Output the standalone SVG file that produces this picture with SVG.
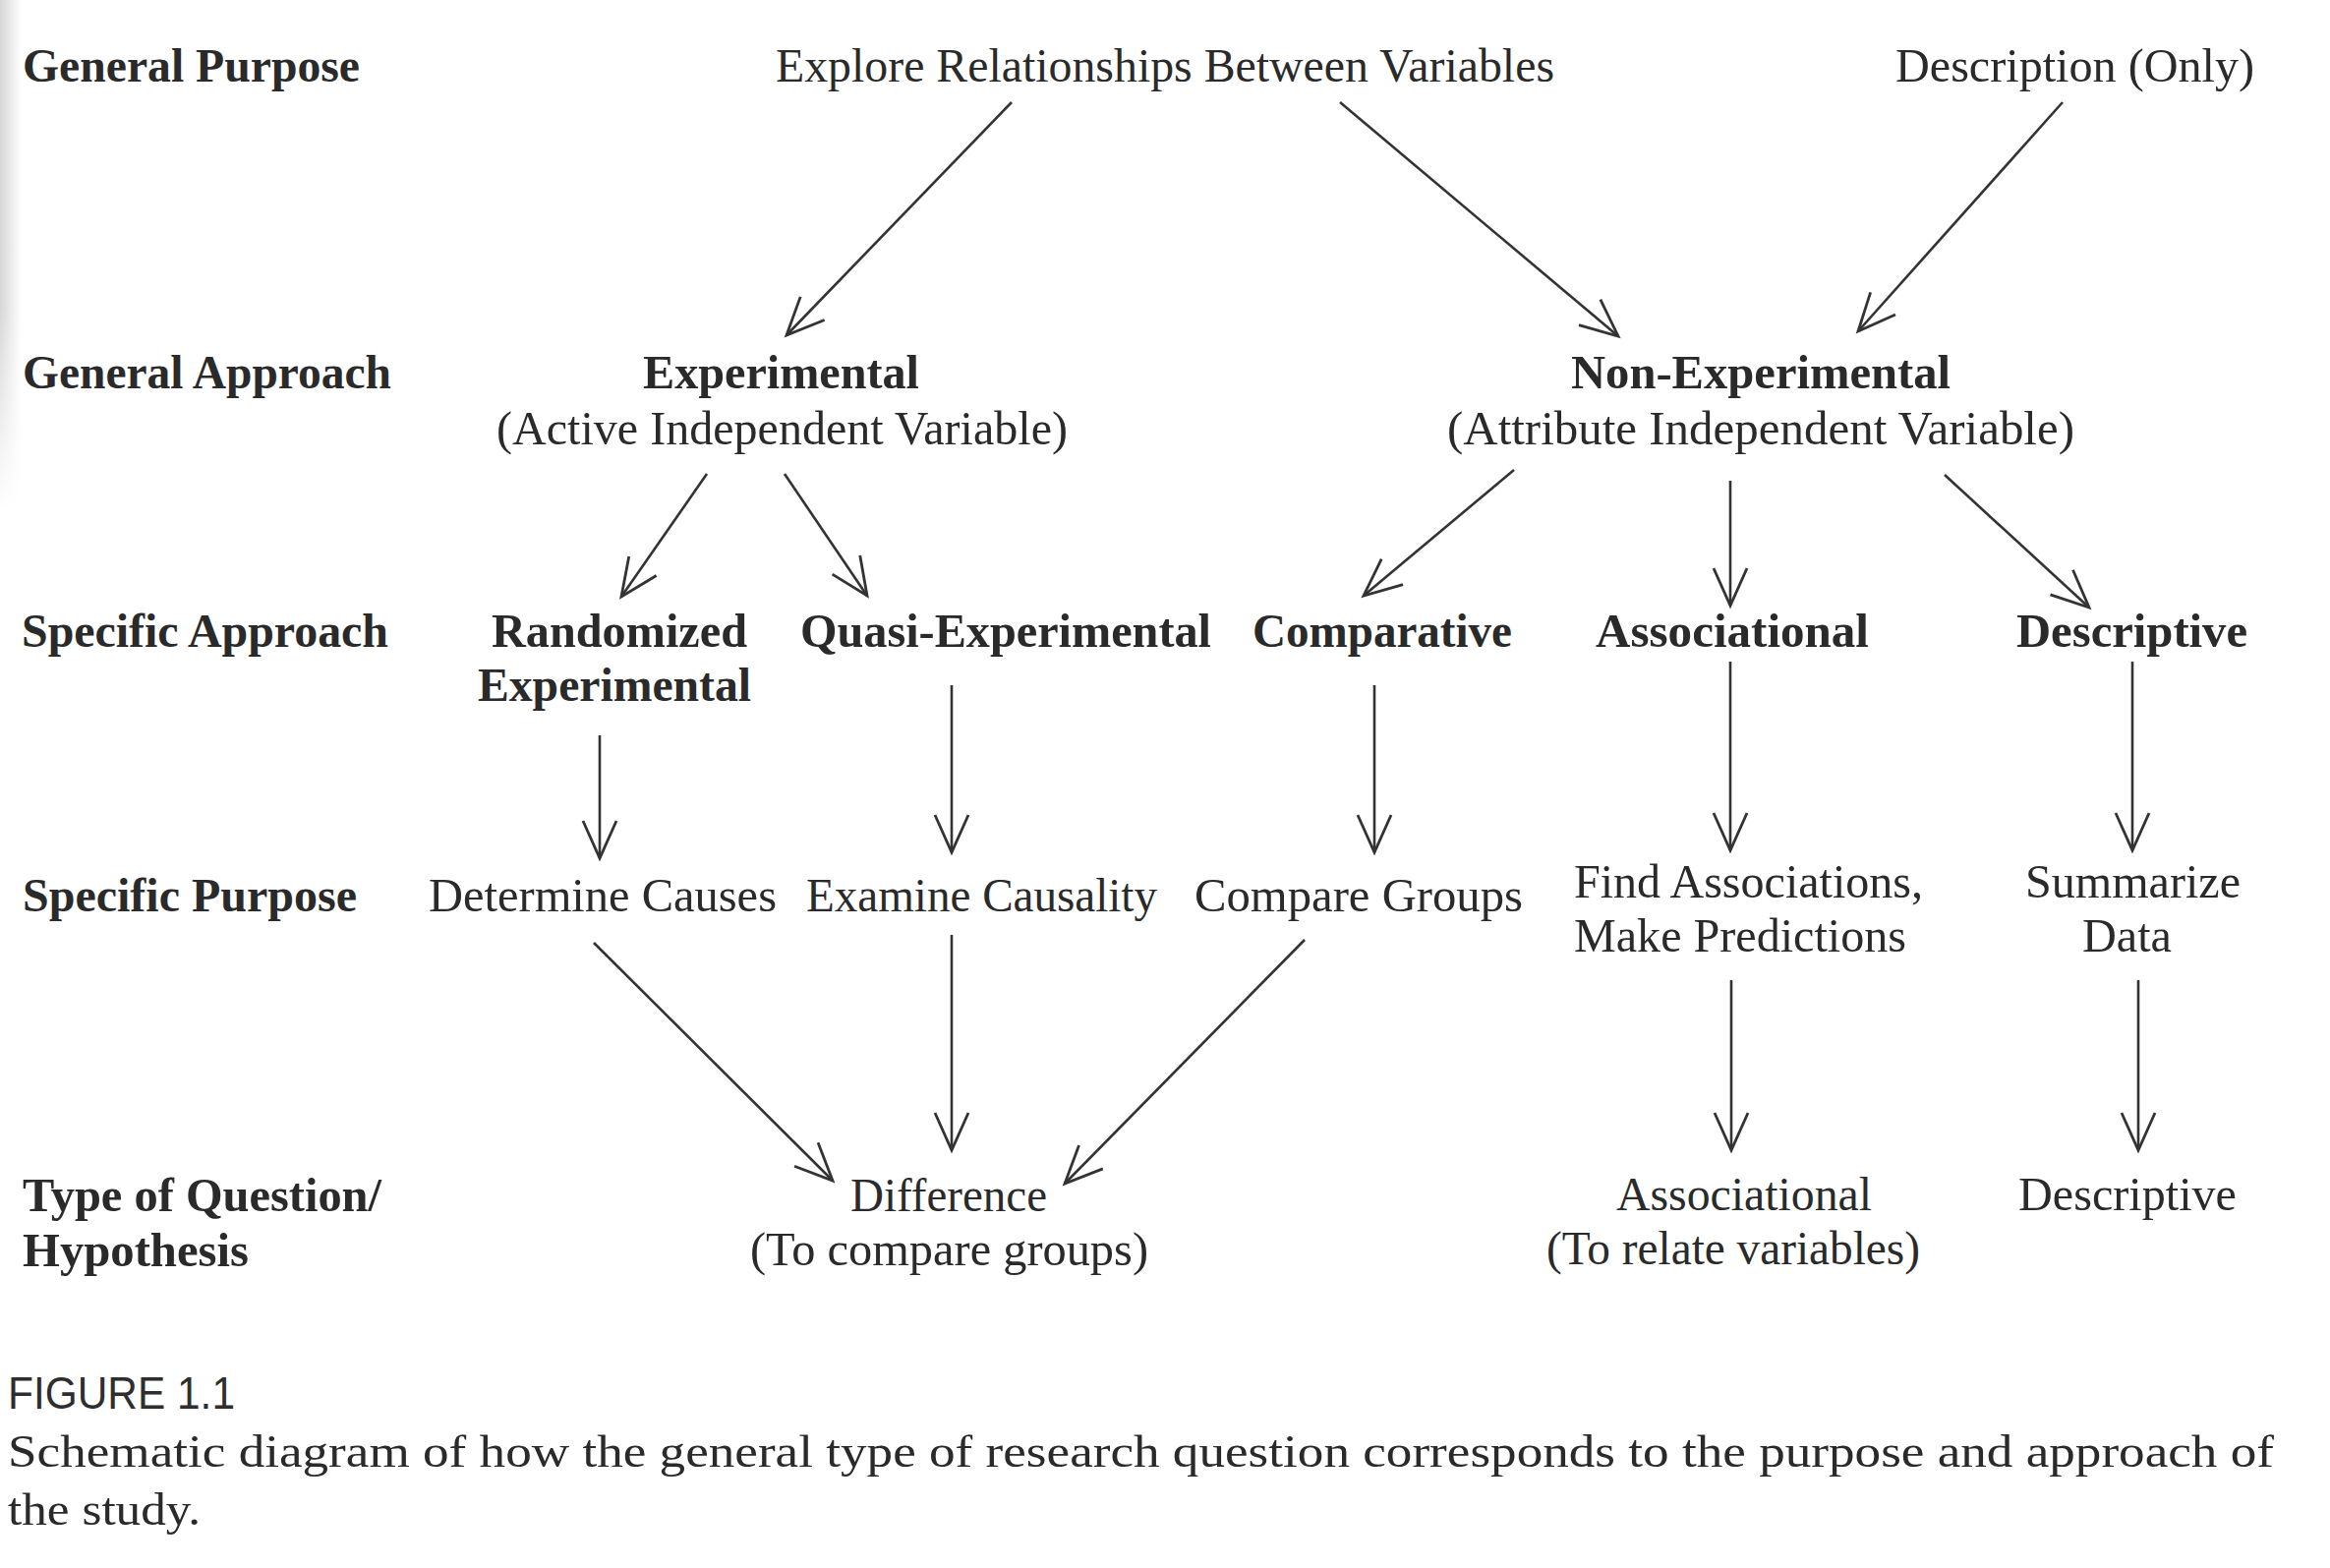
<svg xmlns="http://www.w3.org/2000/svg" width="2370" height="1595" viewBox="0 0 2370 1595">
<style>
  text { font-family: "Liberation Serif", "Times New Roman", serif; font-size: 48px; fill: #2a2a2a; }
  .b { font-weight: bold; }
  .cap { font-family: "Liberation Sans", Arial, sans-serif; font-size: 46px; fill: #2e2e2e; }
  .capt { font-size: 46px; fill: #2a2a2a; }
  .conn line { stroke: #333333; stroke-width: 2.6; fill: none; marker-end: url(#arr); }
</style>
<defs>
  <marker id="arr" markerUnits="userSpaceOnUse" viewBox="-45 -25 50 50" markerWidth="50" markerHeight="50" refX="0" refY="0" orient="auto">
    <path d="M-38,-17 L0,0 L-38,17" fill="none" stroke="#333333" stroke-width="2.8" stroke-linejoin="miter"/>
  </marker>
  <linearGradient id="shade" x1="0" y1="0" x2="1" y2="0">
    <stop offset="0" stop-color="#d6d6d6"/>
    <stop offset="1" stop-color="#ffffff"/>
  </linearGradient>
  <linearGradient id="fadeV" x1="0" y1="0" x2="0" y2="1">
    <stop offset="0" stop-color="#ffffff"/>
    <stop offset="0.6" stop-color="#ffffff"/>
    <stop offset="1" stop-color="#000000"/>
  </linearGradient>
  <mask id="fadeMask" maskUnits="userSpaceOnUse" x="0" y="0" width="30" height="520">
    <rect x="0" y="0" width="30" height="520" fill="url(#fadeV)"/>
  </mask>
</defs>
<rect x="0" y="0" width="2370" height="1595" fill="#ffffff"/>
<rect x="0" y="0" width="22" height="520" fill="url(#shade)" mask="url(#fadeMask)"/>

<g id="row-labels">
  <text class="b" x="23" y="83" textLength="343" lengthAdjust="spacingAndGlyphs">General Purpose</text>
  <text class="b" x="23" y="395" textLength="375" lengthAdjust="spacingAndGlyphs">General Approach</text>
  <text class="b" x="22" y="658" textLength="373" lengthAdjust="spacingAndGlyphs">Specific Approach</text>
  <text class="b" x="23" y="927" textLength="340" lengthAdjust="spacingAndGlyphs">Specific Purpose</text>
  <text class="b" x="23" y="1232" textLength="365" lengthAdjust="spacingAndGlyphs">Type of Question/</text>
  <text class="b" x="23" y="1288" textLength="230" lengthAdjust="spacingAndGlyphs">Hypothesis</text>
</g>

<g id="explore"><text x="789" y="83" textLength="792" lengthAdjust="spacingAndGlyphs">Explore Relationships Between Variables</text></g>
<g id="description"><text x="1928" y="83" textLength="365" lengthAdjust="spacingAndGlyphs">Description (Only)</text></g>

<g id="experimental">
  <text class="b" x="654" y="395" textLength="281" lengthAdjust="spacingAndGlyphs">Experimental</text>
  <text x="505" y="452" textLength="581" lengthAdjust="spacingAndGlyphs">(Active Independent Variable)</text>
</g>
<g id="non-experimental">
  <text class="b" x="1598" y="395" textLength="386" lengthAdjust="spacingAndGlyphs">Non-Experimental</text>
  <text x="1472" y="452" textLength="638" lengthAdjust="spacingAndGlyphs">(Attribute Independent Variable)</text>
</g>

<g id="randomized">
  <text class="b" x="500" y="658" textLength="260" lengthAdjust="spacingAndGlyphs">Randomized</text>
  <text class="b" x="486" y="713" textLength="278" lengthAdjust="spacingAndGlyphs">Experimental</text>
</g>
<g id="quasi"><text class="b" x="814" y="658" textLength="418" lengthAdjust="spacingAndGlyphs">Quasi-Experimental</text></g>
<g id="comparative"><text class="b" x="1274" y="658" textLength="264" lengthAdjust="spacingAndGlyphs">Comparative</text></g>
<g id="associational-approach"><text class="b" x="1623" y="658" textLength="278" lengthAdjust="spacingAndGlyphs">Associational</text></g>
<g id="descriptive-approach"><text class="b" x="2051" y="658" textLength="235" lengthAdjust="spacingAndGlyphs">Descriptive</text></g>

<g id="determine"><text x="436" y="927" textLength="354" lengthAdjust="spacingAndGlyphs">Determine Causes</text></g>
<g id="examine"><text x="820" y="927" textLength="357" lengthAdjust="spacingAndGlyphs">Examine Causality</text></g>
<g id="compare"><text x="1215" y="927" textLength="334" lengthAdjust="spacingAndGlyphs">Compare Groups</text></g>
<g id="find">
  <text x="1601" y="913" textLength="355" lengthAdjust="spacingAndGlyphs">Find Associations,</text>
  <text x="1601" y="968" textLength="338" lengthAdjust="spacingAndGlyphs">Make Predictions</text>
</g>
<g id="summarize">
  <text x="2060" y="913" textLength="219" lengthAdjust="spacingAndGlyphs">Summarize</text>
  <text x="2118" y="968" textLength="91" lengthAdjust="spacingAndGlyphs">Data</text>
</g>

<g id="difference">
  <text x="865" y="1232" textLength="200" lengthAdjust="spacingAndGlyphs">Difference</text>
  <text x="763" y="1287" textLength="405" lengthAdjust="spacingAndGlyphs">(To compare groups)</text>
</g>
<g id="associational-question">
  <text x="1644" y="1231" textLength="260" lengthAdjust="spacingAndGlyphs">Associational</text>
  <text x="1573" y="1286" textLength="380" lengthAdjust="spacingAndGlyphs">(To relate variables)</text>
</g>
<g id="descriptive-question"><text x="2053" y="1231" textLength="222" lengthAdjust="spacingAndGlyphs">Descriptive</text></g>

<g id="connectors" class="conn">
  <line x1="1029" y1="104" x2="800" y2="341"/>
  <line x1="1363" y1="104" x2="1646" y2="342"/>
  <line x1="2098" y1="104" x2="1890" y2="337"/>
  <line x1="719" y1="482" x2="632" y2="607"/>
  <line x1="798" y1="482" x2="882" y2="606"/>
  <line x1="1540" y1="478" x2="1387" y2="606"/>
  <line x1="1760" y1="489" x2="1760" y2="616"/>
  <line x1="1978" y1="483" x2="2125" y2="618"/>
  <line x1="610" y1="748" x2="610" y2="873"/>
  <line x1="968" y1="697" x2="968" y2="867"/>
  <line x1="1398" y1="697" x2="1398" y2="867"/>
  <line x1="1760" y1="673" x2="1760" y2="865"/>
  <line x1="2169" y1="673" x2="2169" y2="865"/>
  <line x1="604" y1="959" x2="847" y2="1201"/>
  <line x1="968" y1="951" x2="968" y2="1170"/>
  <line x1="1327" y1="956" x2="1083" y2="1204"/>
  <line x1="1761" y1="997" x2="1761" y2="1170"/>
  <line x1="2175" y1="997" x2="2175" y2="1170"/>
</g>

<g id="caption">
  <text class="cap" x="8" y="1433" textLength="231" lengthAdjust="spacingAndGlyphs">FIGURE 1.1</text>
  <text class="capt" x="8" y="1492" textLength="2305" lengthAdjust="spacingAndGlyphs">Schematic diagram of how the general type of research question corresponds to the purpose and approach of</text>
  <text class="capt" x="8" y="1551" textLength="196" lengthAdjust="spacingAndGlyphs">the study.</text>
</g>
</svg>
